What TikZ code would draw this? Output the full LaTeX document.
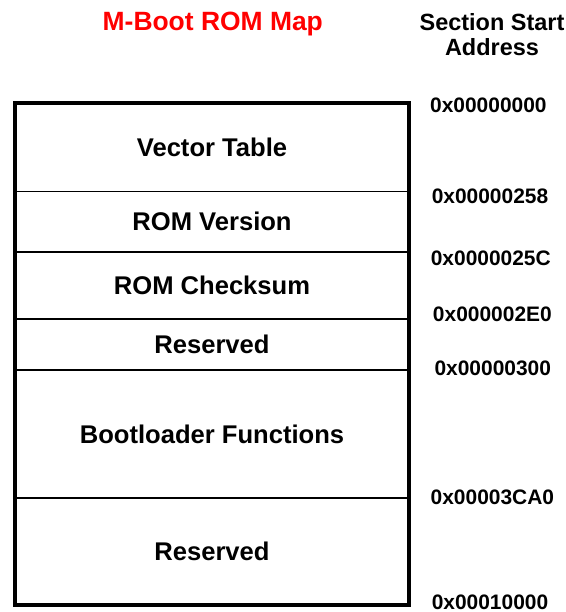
\documentclass[tikz,border=0pt]{standalone}
\usepackage{fontspec}
\setmainfont{Liberation Sans}
\usetikzlibrary{positioning}
\definecolor{MapRed}{RGB}{255, 0, 0}

\tikzset{
  sec/.style={draw, line width=1.4pt, rectangle, outer sep=0pt, minimum width=9.85cm, font=\fontsize{18.2}{20}\selectfont\bfseries},
  addr/.style={font=\fontsize{14.9}{17}\selectfont\bfseries, inner sep=0pt}
}

\begin{document}
\begin{tikzpicture}
                \useasboundingbox (0, 0) rectangle (14.15, -15.3);
                % Headings
                \node[font=\fontsize{18.8}{21}\selectfont\bfseries, color=MapRed] (title) at (5.32, -0.6) {M-Boot ROM Map};
                \node[font=\fontsize{16.7}{17.8}\selectfont\bfseries, align=center] (head) at (12.3, -0.86) {Section Start\\Address};

                % Memory sections, top to bottom
                \node[sec, minimum height=2.2125cm, anchor=north west] (vec) at (0.375, -2.575) {Vector Table};
                \node[sec, minimum height=1.5125cm, below=0cm of vec] (ver) {ROM Version};
                \node[sec, minimum height=1.675cm, below=0cm of ver] (chk) {ROM Checksum};
                \node[sec, minimum height=1.275cm, below=0cm of chk] (res) {Reserved};
                \node[sec, minimum height=3.2cm, below=0cm of res] (boot) {Bootloader Functions};
                \node[sec, minimum height=2.675cm, below=0cm of boot] (resb) {Reserved};

                % Outer frame
                \draw[line width=2.6pt] (vec.north west) rectangle (resb.south east);

                % Start addresses
                \node[addr] (a0) at (12.21, -2.63) {0x00000000};
                \node[addr] (a1) at (12.25, -4.9) {0x00000258};
                \node[addr] (a2) at (12.27, -6.45) {0x0000025C};
                \node[addr] (a3) at (12.31, -7.85) {0x000002E0};
                \node[addr] (a4) at (12.32, -9.2) {0x00000300};
                \node[addr] (a5) at (12.31, -12.42) {0x00003CA0};
                \node[addr] (a6) at (12.25, -15.05) {0x00010000};
            \end{tikzpicture}
\end{document}
